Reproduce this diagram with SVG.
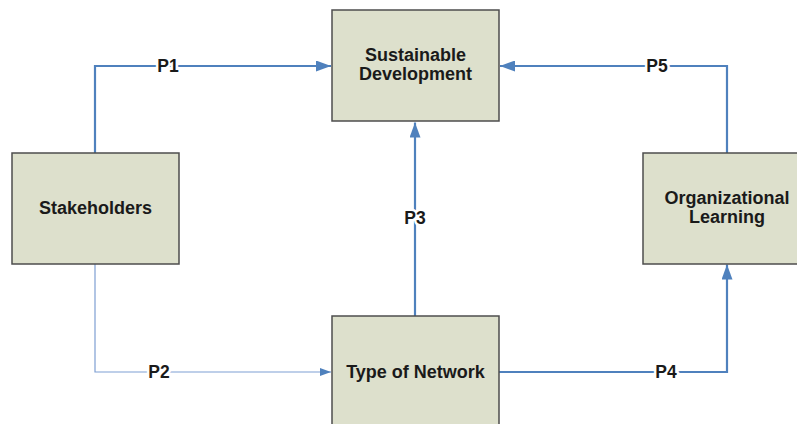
<svg xmlns="http://www.w3.org/2000/svg" width="797" height="424" viewBox="0 0 797 424">
<style>
.box{fill:#dde0cc;stroke:#4d4d4d;stroke-width:1.5}
.t{font-family:"Liberation Sans",Arial,sans-serif;font-weight:bold;font-size:18px;fill:#1a1a1a;text-anchor:middle}
.ln{fill:none;stroke:#4f81bd;stroke-width:2.2}
.thin{fill:none;stroke:#7f9fd3;stroke-width:1.2}
.lbl{font-family:"Liberation Sans",Arial,sans-serif;font-weight:bold;font-size:17.5px;fill:#1a1a1a;text-anchor:middle;stroke:#ffffff;stroke-width:5;paint-order:stroke;stroke-linejoin:round}
</style>
<defs>
<marker id="ah" viewBox="0 0 15 11" refX="15" refY="5.5" markerWidth="15" markerHeight="11" markerUnits="userSpaceOnUse" orient="auto">
<path d="M0,0 L15,5.5 L0,11 Z" fill="#4f81bd"/>
</marker>
<marker id="ahs" viewBox="0 0 11 8" refX="11" refY="4" markerWidth="11" markerHeight="8" markerUnits="userSpaceOnUse" orient="auto">
<path d="M0,0 L11,4 L0,8 Z" fill="#4f81bd"/>
</marker>
</defs>
<rect width="797" height="424" fill="#ffffff"/>
<g id="connectors">
<path class="ln" d="M95,153 V66 H331" marker-end="url(#ah)"/>
<path class="thin" d="M95,264 V372 H331" marker-end="url(#ahs)"/>
<path class="ln" d="M415,316 V122.5" marker-end="url(#ah)"/>
<path class="ln" d="M499,372 H727 V264.5" marker-end="url(#ah)"/>
<path class="ln" d="M727,153 V66 H500" marker-end="url(#ah)"/>
<text class="lbl" x="168" y="72">P1</text>
<text class="lbl" x="159" y="378">P2</text>
<text class="lbl" x="415" y="224">P3</text>
<text class="lbl" x="666" y="378">P4</text>
<text class="lbl" x="657" y="72">P5</text>
</g>
<g id="sustainable-development">
<rect class="box" x="332" y="10" width="167" height="111"/>
<text class="t" x="415.5" y="61">Sustainable</text>
<text class="t" x="415.5" y="80">Development</text>
</g>
<g id="stakeholders">
<rect class="box" x="12" y="153" width="167" height="111"/>
<text class="t" x="95.5" y="214">Stakeholders</text>
</g>
<g id="type-of-network">
<rect class="box" x="332" y="316" width="167" height="120"/>
<text class="t" x="415.5" y="378">Type of Network</text>
</g>
<g id="organizational-learning">
<rect class="box" x="643" y="153" width="167" height="111"/>
<text class="t" x="727" y="204">Organizational</text>
<text class="t" x="727" y="223">Learning</text>
</g>
</svg>
